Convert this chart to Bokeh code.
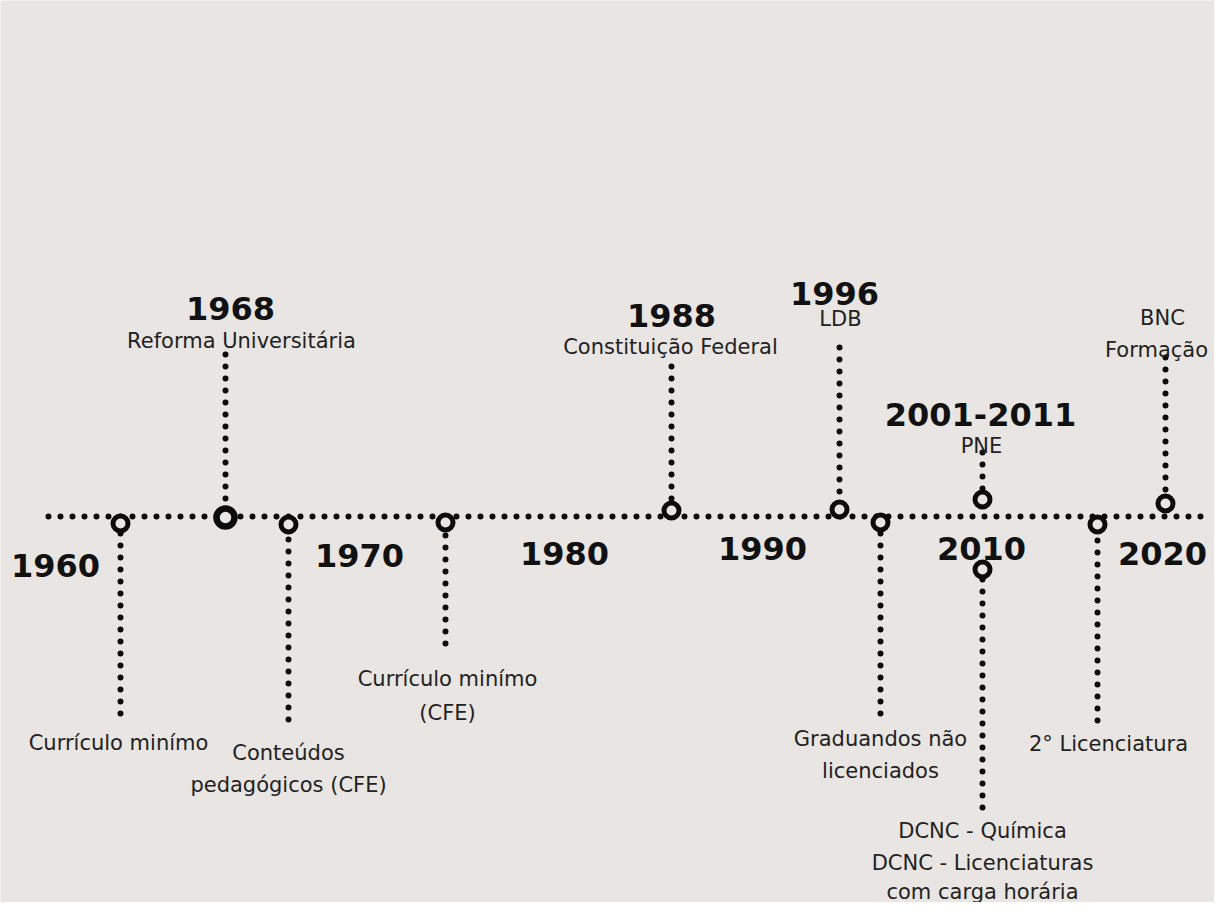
from bokeh.plotting import figure
from bokeh.models import Range1d, ColumnDataSource
from bokeh.core.properties import value
from bokeh.embed import file_html
from bokeh.resources import INLINE

# ---------------- data ----------------
# decade markers along the timeline
decade_labels = ["1960", "1970", "1980", "1990", "2010", "2020"]
decade_pos = [55, 359, 564, 762, 981, 1162]
decade_base = [565, 555, 553, 548, 548, 553]

# events: position on the timeline, circle height, end of the connector
event_names = ["Currículo minímo", "Reforma Universitária", "Conteúdos pedagógicos (CFE)",
               "Currículo minímo (CFE)", "Constituição Federal", "LDB", "Graduandos não licenciados",
               "PNE", "DCNC", "2° Licenciatura", "BNC Formação"]
event_pos = [120, 225, 288, 445, 671, 839, 880, 982, 982, 1097, 1165]
event_circle = [523, 517, 524, 522, 510, 509, 522, 499, 569, 524, 503]
event_end = [713, 354, 719, 643, 366, 347, 713, 452, 807, 720, 357]

# bold year headings
year_text = ["1968", "1988", "1996", "2001-2011"]
year_x = [230, 671, 834, 980]
year_y = [308, 315, 293, 414]

# description lines
desc_text = ["Reforma Universitária", "Constituição Federal", "LDB", "PNE", "BNC", "Formação",
             "Currículo minímo", "Conteúdos", "pedagógicos (CFE)", "Currículo minímo", "(CFE)",
             "Graduandos não", "licenciados", "2° Licenciatura", "DCNC - Química",
             "DCNC - Licenciaturas", "com carga horária"]
desc_x = [241, 670, 840, 981, 1162, 1156, 118, 288, 288, 447, 447, 880, 880, 1108, 982, 982, 982]
desc_y = [340, 346, 318, 445, 317, 349, 742, 752, 784, 678, 712, 738, 770, 743, 830, 862, 891]

# main axis line
axis_start, axis_end, axis_y = 48, 1212, 516

BG = "#E9E5E2"
INK = "#0b0b0b"

p = figure(width=1214, height=902, output_backend="svg", toolbar_location=None,
           x_range=Range1d(0, 1214), y_range=Range1d(902, 0),
           x_axis_location=None, y_axis_location=None, min_border=0)
p.background_fill_color = BG
p.border_fill_color = BG
p.outline_line_color = None
p.xgrid.visible = False
p.ygrid.visible = False

dot = dict(line_color=INK, line_width=6, line_dash="0 12", line_cap="round")

# connectors
p.segment(x0=event_pos, y0=event_end, x1=event_pos, y1=event_circle, **dot)
# main line
p.segment(x0=[axis_start], y0=[axis_y], x1=[axis_end], y1=[axis_y], **dot)

# circles
sizes = [15, 18, 15, 15, 15, 15, 15, 15, 15, 15, 15]
widths = [5, 6.5, 5, 5, 5, 5, 5, 5, 5, 5, 5]
csrc = ColumnDataSource(dict(x=event_pos, y=event_circle, s=sizes, w=widths))
p.scatter(x="x", y="y", size="s", line_width="w", source=csrc, marker="circle",
          fill_color=BG, line_color=INK)

# decade labels
p.text(x=decade_pos, y=decade_base, text=decade_labels, text_align="center",
       text_baseline="alphabetic", text_font=value("DejaVu Sans"), text_font_style="bold",
       text_font_size="32px", text_color="#111111")

# year headings
p.text(x=year_x, y=year_y, text=year_text, text_align="center",
       text_baseline="alphabetic", text_font=value("DejaVu Sans"), text_font_style="bold",
       text_font_size="32px", text_color="#111111")

# descriptions
p.text(x=desc_x, y=desc_y, text=desc_text, text_align="center",
       text_baseline="alphabetic", text_font=value("DejaVu Sans"),
       text_font_size="21px", text_color="#222222")

open("out.html", "w").write(file_html(p, INLINE))
